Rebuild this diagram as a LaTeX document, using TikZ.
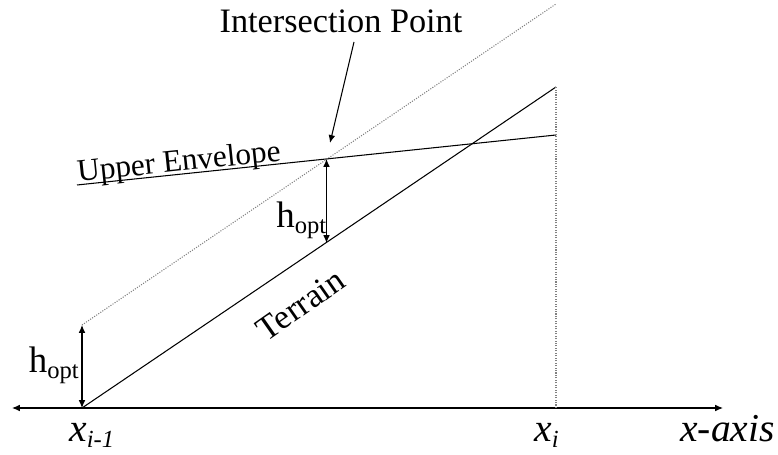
\documentclass[tikz,border=0pt]{standalone}
\usepackage{fontspec}
\setmainfont{Liberation Serif}[ItalicFont={Liberation Serif Italic}]
\usetikzlibrary{arrows.meta}
\tikzset{
  line/.style={line width=0.6pt},
  guide/.style={gray, line width=0.6pt, dash pattern=on 0.6pt off 0.8pt},
  dim/.style={line width=0.6pt, {Latex[length=4.5pt,width=3.8pt]}-{Latex[length=4.5pt,width=3.8pt]}},
  lbl/.style={inner sep=0pt, font=\fontsize{19.5}{21}\selectfont},
  axlbl/.style={inner sep=0pt, font=\fontsize{22.5}{24}\selectfont\itshape}
}
\newcommand{\lsub}[1]{\textsubscript{\fontsize{14}{15}\selectfont #1}}
\begin{document}
\begin{tikzpicture}
  \useasboundingbox (0,0) rectangle (15.56,9.1);
  % points
  \coordinate (al) at (0.24,0.94);
  \coordinate (ar) at (14.46,0.94);
  \coordinate (xa) at (1.64,0.94);
  \coordinate (xb) at (11.12,0.94);
  \coordinate (ta) at (11.12,7.36);
  \coordinate (da) at (1.64,2.6);
  \coordinate (db) at (11.12,9.02);
  \coordinate (ea) at (1.54,5.4);
  \coordinate (eb) at (11.12,6.4);
  \coordinate (ip) at (6.53,5.92);
  \coordinate (it) at (6.53,4.24);
  \coordinate (ps) at (7.08,8.26);
  \coordinate (pe) at (6.6,6.24);

  \draw[line, {Latex[length=4.5pt,width=3.8pt]}-{Latex[length=4.5pt,width=3.8pt]}] (al) -- (ar);
  \draw[line] (xa) -- (ta);
  \draw[line] (ea) -- (eb);
  \draw[guide] (da) -- (db);
  \draw[guide] (xb) -- (ta);
  \draw[dim] (da) -- (xa);
  \draw[dim] (ip) -- (it);
  \draw[line, -{Latex[length=4.5pt,width=3.8pt]}] (ps) -- (pe);

  \node[lbl, anchor=base] (ipl) at (6.82,8.44) {Intersection Point};
  \node[lbl, anchor=base west, rotate=6, font=\fontsize{17.8}{19}\selectfont] (uel) at (1.56,5.46) {Upper Envelope};
  \node[lbl, anchor=base, rotate=35] (trl) at (6.14,2.82) {Terrain};
  \node[lbl, anchor=base east, font=\fontsize{21}{22}\selectfont] (ha) at (1.6,1.64) {h\lsub{opt}};
  \node[lbl, anchor=base east, font=\fontsize{21}{22}\selectfont] (hb) at (6.55,4.54) {h\lsub{opt}};
  \node[axlbl, anchor=base west] (xal) at (1.38,0.26) {x\lsub{i-1}};
  \node[axlbl, anchor=base west] (xbl) at (10.68,0.26) {x\lsub{i}};
  \node[axlbl, anchor=base] (axl) at (14.55,0.26) {x-axis};
\end{tikzpicture}
\end{document}
